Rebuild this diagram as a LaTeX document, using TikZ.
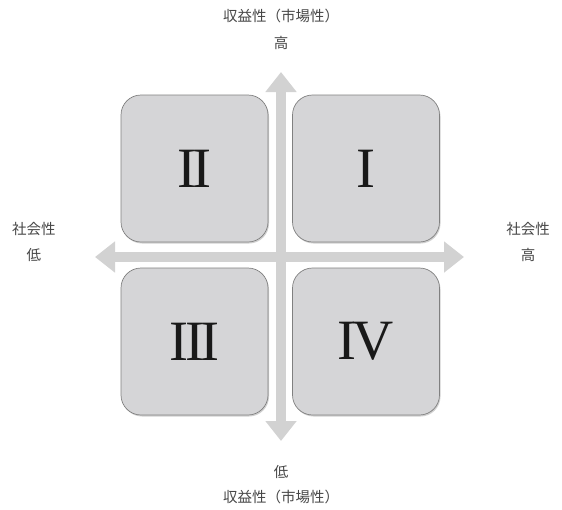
\documentclass[tikz,border=0pt]{standalone}
\usepackage{fontspec}
\setmainfont{Liberation Serif}
\newfontfamily\jfont{Noto Sans CJK JP}
\usetikzlibrary{arrows.meta,shadows}
\definecolor{boxfill}{RGB}{213,213,215}
\definecolor{axisgray}{RGB}{210,210,210}
\begin{document}
\begin{tikzpicture}[x=1pt,y=-1pt,
  quad/.style={draw=black!50,line width=0.7pt,fill=boxfill,rounded corners=20pt,
    minimum width=147pt,minimum height=147pt,inner sep=0pt,
    drop shadow={shadow xshift=1pt,shadow yshift=-1.5pt,opacity=0.3,fill=black!60},
    font=\fontsize{57}{57}\selectfont,text=black!90},
  axis/.style={draw=axisgray,line width=10pt,
    -{Triangle[width=30pt,length=20pt,color=axisgray]}},
  lbl/.style={font=\jfont\fontsize{14.5}{16}\selectfont,text=black!72,inner sep=0pt,align=center}
]
\useasboundingbox (0,0) rectangle (562,509);
\fill[white] (0,0) rectangle (562,509);
% axes
\coordinate (C) at (281,257);
\coordinate (T) at (281,72);
\coordinate (B) at (281,441);
\coordinate (L) at (95,257);
\coordinate (R) at (464,257);
\draw[axis] (C) -- (T);
\draw[axis] (C) -- (B);
\draw[axis] (C) -- (L);
\draw[axis] (C) -- (R);
% boxes
\node[quad] (q2) at (194.5,168.5) {I\kern-3.5ptI};
\node[quad] (q1) at (366,168.5) {I};
\node[quad] (q3) at (194.5,341.5) {I\kern-3.5ptI\kern-3.5ptI};
\node[quad] (q4) at (366,341.5) {I\kern-4ptV};
% labels
\node[lbl] (tl) at (281,16) {収益性（市場性）};
\node[lbl] (th) at (281,43) {高};
\node[lbl] (ll) at (34,229) {社会性};
\node[lbl] (lh) at (34,255) {低};
\node[lbl] (rl) at (528,229) {社会性};
\node[lbl] (rh) at (528,255) {高};
\node[lbl] (bh) at (281,472) {低};
\node[lbl] (bl) at (281,497) {収益性（市場性）};
\end{tikzpicture}
\end{document}
